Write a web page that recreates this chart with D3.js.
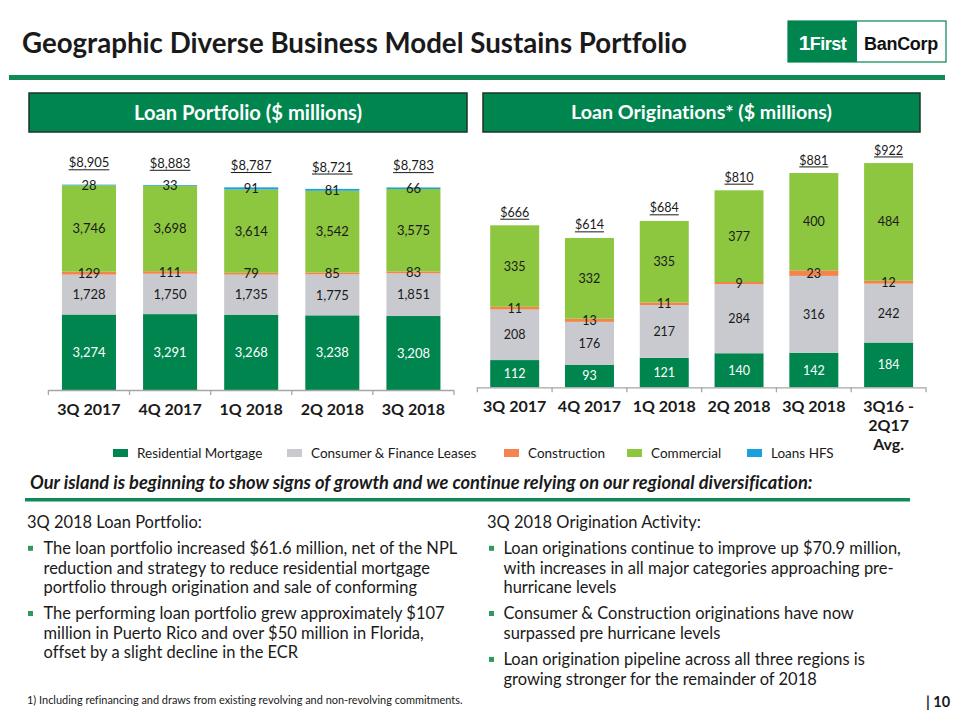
<!DOCTYPE html>
<html><head><meta charset="utf-8">
<script src="https://cdn.jsdelivr.net/npm/d3@7"></script>
<style>html,body{margin:0;padding:0;background:#fff}svg{display:block}
svg text{font-variant-ligatures:none;font-feature-settings:"liga" 0,"clig" 0}</style>
</head><body>
<svg id="c" width="960" height="720"></svg>
<script>
// ---------- DATA ----------
const portCats = ["3Q 2017", "4Q 2017", "1Q 2018", "2Q 2018", "3Q 2018"];
const portResidential = [3274, 3291, 3268, 3238, 3208];
const portConsumer = [1728, 1750, 1735, 1775, 1851];
const portConstruction = [129, 111, 79, 85, 83];
const portCommercial = [3746, 3698, 3614, 3542, 3575];
const portHFS = [28, 33, 91, 81, 66];

const origCats = ["3Q 2017", "4Q 2017", "1Q 2018", "2Q 2018", "3Q 2018", "3Q16 -|2Q17|Avg."];
const origResidential = [112, 93, 121, 140, 142, 184];
const origConsumer = [208, 176, 217, 284, 316, 242];
const origConstruction = [11, 13, 11, 9, 23, 12];
const origCommercial = [335, 332, 335, 377, 400, 484];

const seriesNames = ["Residential Mortgage", "Consumer & Finance Leases", "Construction", "Commercial", "Loans HFS"];
const seriesColors = ["#00854f", "#c9cacf", "#f4844c", "#8dc63f", "#1aa0dc"];

// ---------- SETUP ----------
const FONT = "Lato, 'Open Sans', sans-serif";
const TXT = "#1a1a1a";
const GREEN = "#00854f";
const svg = d3.select("#c");

function measure(text, size, weight, style, family) {
  const t = svg.append("text").attr("font-family", family || FONT).attr("font-size", size)
    .attr("font-weight", weight || "normal").attr("font-style", style || "normal").text(text);
  const w = t.node().getComputedTextLength();
  t.remove();
  return w;
}
function sizeFor(text, target, weight, style, family) {
  return 100 * target / measure(text, 100, weight, style, family);
}

// ---------- HEADER ----------
const title = "Geographic Diverse Business Model Sustains Portfolio";
svg.append("text").attr("x", 22).attr("y", 53).attr("font-family", FONT).attr("font-weight", "bold")
  .attr("font-size", 28).attr("fill", TXT).attr("textLength", 665).attr("lengthAdjust", "spacingAndGlyphs")
  .text(title);

// logo
const logo = svg.append("g");
logo.append("rect").attr("x", 788).attr("y", 21).attr("width", 158).attr("height", 41).attr("fill", "#fff")
  .attr("stroke", GREEN).attr("stroke-width", 1.2);
logo.append("rect").attr("x", 788).attr("y", 21).attr("width", 69).attr("height", 41).attr("fill", GREEN);
const lt = logo.append("text").attr("x", 822.5).attr("y", 49.5).attr("text-anchor", "middle")
  .attr("font-family", "'Liberation Sans', Arial, sans-serif").attr("font-weight", "bold").attr("fill", "#fff")
  .attr("font-size", 18).attr("letter-spacing", -0.5);
lt.append("tspan").attr("font-size", 21).text("1");
lt.append("tspan").text("First");
logo.append("text").attr("x", 901).attr("y", 49.5).attr("text-anchor", "middle")
  .attr("font-family", "'Liberation Sans', Arial, sans-serif").attr("font-weight", "bold").attr("fill", "#111")
  .attr("font-size", 18).attr("letter-spacing", -0.3).text("BanCorp");

// top rule
svg.append("rect").attr("x", 9).attr("y", 75).attr("width", 936).attr("height", 5).attr("fill", "#128a57");

// section header boxes
const boxes = [
  {x: 29, w: 438, label: "Loan Portfolio ($ millions)", tw: 228},
  {x: 483, w: 437, label: "Loan Originations* ($ millions)", tw: 261}
];
boxes.forEach(b => {
  svg.append("rect").attr("x", b.x).attr("y", 93).attr("width", b.w).attr("height", 39)
    .attr("fill", GREEN).attr("stroke", "#1c3327").attr("stroke-width", 1.5);
  const fs = sizeFor(b.label, b.tw, "bold");
  svg.append("text").attr("x", b.x + b.w / 2).attr("y", 112.5).attr("dy", "0.35em").attr("text-anchor", "middle")
    .attr("font-family", FONT).attr("font-weight", "bold").attr("font-size", fs).attr("fill", "#fff").text(b.label);
});

// ---------- CHARTS ----------
function drawChart(cfg) {
  const g = svg.append("g");
  const keys = cfg.series.map((s, i) => "k" + i);
  const table = cfg.cats.map((c, i) => {
    const o = {cat: c};
    cfg.series.forEach((s, j) => o["k" + j] = s[i]);
    return o;
  });
  const stacked = d3.stack().keys(keys)(table);
  const x = d3.scaleBand().domain(cfg.cats).range([cfg.x0, cfg.x1])
    .paddingInner(cfg.pad).paddingOuter(cfg.pad / 2);
  const y = d3.scaleLinear().domain([0, cfg.ymax]).range([cfg.base, cfg.base - cfg.ppu * cfg.ymax]);

  // bars
  stacked.forEach((layer, li) => {
    g.append("g").attr("fill", seriesColors[li]).selectAll("rect").data(layer).join("rect")
      .attr("x", d => x(d.data.cat)).attr("width", x.bandwidth())
      .attr("y", d => y(d[1])).attr("height", d => y(d[0]) - y(d[1]));
  });
  // segment labels
  stacked.forEach((layer, li) => {
    g.append("g").selectAll("text").data(layer).join("text")
      .attr("x", d => x(d.data.cat) + x.bandwidth() / 2)
      .attr("y", d => (y(d[0]) + y(d[1])) / 2).attr("dy", "0.36em").attr("text-anchor", "middle")
      .attr("font-family", FONT).attr("font-size", cfg.fs).attr("fill", li === 0 ? "#fff" : TXT)
      .text(d => d3.format(",")(d[1] - d[0]));
  });
  // totals
  table.forEach(row => {
    const tot = d3.sum(keys, k => row[k]);
    const cx = x(row.cat) + x.bandwidth() / 2;
    const cy = y(tot) - cfg.totOff;
    const t = g.append("text").attr("x", cx).attr("y", cy).attr("dy", "0.36em").attr("text-anchor", "middle")
      .attr("font-family", FONT).attr("font-size", cfg.fs).attr("fill", TXT).text("$" + d3.format(",")(tot));
    const w = t.node().getComputedTextLength();
    g.append("line").attr("x1", cx - w / 2).attr("x2", cx + w / 2).attr("y1", cy + cfg.fs * 0.55).attr("y2", cy + cfg.fs * 0.55)
      .attr("stroke", TXT).attr("stroke-width", 1);
  });
  // axis
  g.append("line").attr("x1", cfg.x0).attr("x2", cfg.x1).attr("y1", cfg.base + 0.5).attr("y2", cfg.base + 0.5)
    .attr("stroke", "#a6a6a6").attr("stroke-width", 1.3);
  const step = x.step();
  d3.range(cfg.cats.length + 1).forEach(i => {
    const tx = cfg.x0 + i * step;
    g.append("line").attr("x1", tx).attr("x2", tx).attr("y1", cfg.base).attr("y2", cfg.base + 5)
      .attr("stroke", "#a6a6a6").attr("stroke-width", 1.3);
  });
  cfg.cats.forEach(c => {
    const lines = c.split("|");
    const t = g.append("text").attr("text-anchor", "middle").attr("font-family", FONT).attr("font-weight", "bold")
      .attr("font-size", 16).attr("fill", TXT);
    lines.forEach((ln, i) => {
      t.append("tspan").attr("x", x(c) + x.bandwidth() / 2).attr("y", cfg.labY + i * 18.6).attr("dy", "0.36em").text(ln);
    });
  });
}

drawChart({
  cats: portCats,
  series: [portResidential, portConsumer, portConstruction, portCommercial, portHFS],
  x0: 48.4, x1: 454, pad: 0.334, base: 390, ppu: 0.02306, ymax: 10000,
  fs: 13, totOff: 22, labY: 408.8
});
drawChart({
  cats: origCats,
  series: [origResidential, origConsumer, origConstruction, origCommercial],
  x0: 477.3, x1: 926, pad: 0.345, base: 387.3, ppu: 0.2432, ymax: 1000,
  fs: 12.5, totOff: 13, labY: 406.7
});

// ---------- LEGEND ----------
const legX = [113, 287, 504, 627, 747];
seriesNames.forEach((n, i) => {
  svg.append("rect").attr("x", legX[i]).attr("y", 449).attr("width", 15).attr("height", 8).attr("fill", seriesColors[i]);
  svg.append("text").attr("x", legX[i] + 24).attr("y", 453.3).attr("dy", "0.36em").attr("font-family", FONT)
    .attr("font-size", 13.5).attr("fill", TXT).text(n);
});

// ---------- TAGLINE ----------
const tag = "Our island is beginning to show signs of growth and we continue relying on our regional diversification:";
svg.append("text").attr("x", 30).attr("y", 482.5).attr("dy", "0.36em").attr("font-family", FONT)
  .attr("font-weight", "bold").attr("font-style", "italic").attr("font-size", sizeFor(tag, 783, "bold", "italic"))
  .attr("fill", TXT).text(tag);
svg.append("rect").attr("x", 25).attr("y", 498).attr("width", 885).attr("height", 3.5).attr("fill", "#128a57");

// ---------- BODY TEXT ----------
const leftHead = "3Q 2018 Loan Portfolio:";
const leftBullets = [
  ["The loan portfolio increased $61.6 million, net of the NPL",
   "reduction and strategy to reduce residential mortgage",
   "portfolio through origination and sale of conforming"],
  ["The performing loan portfolio grew approximately $107",
   "million in Puerto Rico and over $50 million in Florida,",
   "offset by a slight decline in the ECR"]
];
const rightHead = "3Q 2018 Origination Activity:";
const rightBullets = [
  ["Loan originations continue to improve up $70.9 million,",
   "with increases in all major categories approaching pre-",
   "hurricane levels"],
  ["Consumer & Construction originations have now",
   "surpassed pre hurricane levels"],
  ["Loan origination pipeline across all three regions is",
   "growing stronger for the remainder of 2018"]
];
const bodyFs = sizeFor(leftBullets[0][0], 414);
function block(x0, bx, tx, head, bullets) {
  svg.append("text").attr("x", x0).attr("y", 521.7).attr("dy", "0.36em").attr("font-family", FONT)
    .attr("font-size", bodyFs).attr("fill", TXT).text(head);
  let yy = 548.3;
  bullets.forEach(b => {
    svg.append("rect").attr("x", bx).attr("y", yy - 2.5).attr("width", 5).attr("height", 5).attr("fill", "#2f9a5f");
    b.forEach((ln, i) => {
      svg.append("text").attr("x", tx).attr("y", yy).attr("dy", "0.36em").attr("font-family", FONT)
        .attr("font-size", bodyFs).attr("fill", TXT).text(ln);
      if (i < b.length - 1) yy += 19.3;
    });
    yy += 26.6;
  });
}
block(27, 28, 43.5, leftHead, leftBullets);
block(487, 489, 503.5, rightHead, rightBullets);

// footnote & page number
const foot = "1) Including refinancing and draws from existing revolving and non-revolving commitments.";
svg.append("text").attr("x", 27).attr("y", 700).attr("dy", "0.36em").attr("font-family", FONT)
  .attr("font-size", sizeFor(foot, 436)).attr("fill", TXT).text(foot);
svg.append("text").attr("x", 926).attr("y", 701.7).attr("dy", "0.36em").attr("font-family", FONT)
  .attr("font-weight", "bold").attr("font-size", 14.5).attr("fill", TXT).text("| 10");
</script></body></html>
